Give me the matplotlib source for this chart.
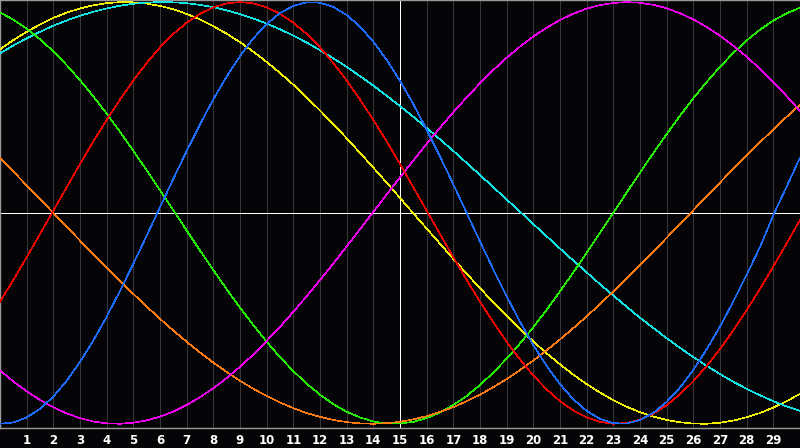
import matplotlib
matplotlib.use("Agg")
import matplotlib.pyplot as plt

# sample positions, half a grid step apart (0 .. 30)
xs = [i / 2 for i in range(61)]
tick_pos = list(range(1, 30))
tick_labels = [str(i) for i in tick_pos]

blue = [-1.000, -0.994, -0.970, -0.929, -0.871, -0.796, -0.707, -0.605, -0.492, -0.370,
        -0.241, -0.108, 0.027, 0.162, 0.294, 0.420, 0.539, 0.647, 0.744, 0.828,
        0.896, 0.948, 0.982, 0.999, 0.997, 0.977, 0.939, 0.884, 0.812, 0.726,
        0.627, 0.516, 0.395, 0.268, 0.135, 0.000, -0.135, -0.268, -0.395, -0.516,
        -0.627, -0.726, -0.812, -0.884, -0.939, -0.977, -0.997, -0.999, -0.982, -0.948,
        -0.896, -0.828, -0.744, -0.647, -0.539, -0.420, -0.294, -0.162, -0.010, 0.125,
        0.262]
red = [-0.421, -0.318, -0.210, -0.100, 0.011, 0.122, 0.232, 0.339, 0.441, 0.538,
       0.628, 0.711, 0.785, 0.849, 0.902, 0.945, 0.975, 0.994, 1.000, 0.994,
       0.975, 0.945, 0.902, 0.849, 0.785, 0.711, 0.628, 0.538, 0.441, 0.339,
       0.232, 0.122, 0.011, -0.100, -0.210, -0.318, -0.421, -0.519, -0.611, -0.695,
       -0.771, -0.837, -0.893, -0.937, -0.970, -0.991, -1.000, -0.996, -0.980, -0.952,
       -0.912, -0.860, -0.798, -0.726, -0.646, -0.557, -0.461, -0.360, -0.254, -0.144,
       -0.033]
yellow = [0.776, 0.820, 0.859, 0.894, 0.925, 0.950, 0.970, 0.985, 0.995, 1.000,
          0.999, 0.993, 0.982, 0.966, 0.944, 0.918, 0.886, 0.850, 0.810, 0.765,
          0.716, 0.664, 0.608, 0.548, 0.486, 0.421, 0.354, 0.285, 0.215, 0.144,
          0.071, -0.002, -0.074, -0.146, -0.218, -0.288, -0.357, -0.424, -0.489, -0.551,
          -0.610, -0.666, -0.718, -0.767, -0.812, -0.852, -0.888, -0.919, -0.945, -0.966,
          -0.982, -0.993, -0.999, -1.000, -0.995, -0.985, -0.969, -0.949, -0.923, -0.893,
          -0.858]
cyan = [0.757, 0.794, 0.828, 0.859, 0.888, 0.913, 0.935, 0.954, 0.970, 0.983,
        0.992, 0.998, 1.000, 0.999, 0.995, 0.987, 0.976, 0.961, 0.943, 0.922,
        0.898, 0.871, 0.841, 0.808, 0.772, 0.733, 0.693, 0.649, 0.604, 0.556,
        0.507, 0.456, 0.403, 0.349, 0.294, 0.237, 0.180, 0.122, 0.064, 0.006,
        -0.053, -0.111, -0.169, -0.226, -0.282, -0.338, -0.392, -0.445, -0.497, -0.546,
        -0.594, -0.640, -0.684, -0.725, -0.764, -0.801, -0.834, -0.865, -0.893, -0.918,
        -0.939]
green = [0.951, 0.917, 0.874, 0.824, 0.766, 0.701, 0.630, 0.553, 0.471, 0.385,
         0.295, 0.202, 0.108, 0.012, -0.083, -0.178, -0.271, -0.362, -0.449, -0.532,
         -0.611, -0.684, -0.750, -0.810, -0.862, -0.907, -0.943, -0.970, -0.989, -0.999,
         -0.999, -0.991, -0.973, -0.946, -0.911, -0.868, -0.816, -0.757, -0.691, -0.619,
         -0.542, -0.459, -0.372, -0.282, -0.189, -0.094, 0.001, 0.097, 0.191, 0.284,
         0.374, 0.461, 0.544, 0.621, 0.693, 0.759, 0.818, 0.869, 0.912, 0.947,
         0.973]
orange = [0.260, 0.196, 0.131, 0.066, 0.000, -0.066, -0.131, -0.196, -0.260, -0.323,
          -0.384, -0.444, -0.502, -0.558, -0.611, -0.662, -0.710, -0.754, -0.796, -0.834,
          -0.868, -0.899, -0.926, -0.949, -0.967, -0.982, -0.992, -0.998, -1.000, -0.997,
          -0.991, -0.979, -0.964, -0.944, -0.921, -0.893, -0.862, -0.826, -0.788, -0.745,
          -0.700, -0.651, -0.600, -0.546, -0.491, -0.432, -0.372, -0.310, -0.247, -0.183,
          -0.118, -0.053, 0.013, 0.079, 0.144, 0.209, 0.273, 0.335, 0.396, 0.456,
          0.513]
magenta = [-0.747, -0.799, -0.846, -0.887, -0.922, -0.951, -0.973, -0.989, -0.998, -1.000,
           -0.995, -0.984, -0.966, -0.942, -0.911, -0.874, -0.832, -0.783, -0.730, -0.671,
           -0.607, -0.540, -0.469, -0.395, -0.318, -0.240, -0.159, -0.077, 0.005, 0.087,
           0.169, 0.249, 0.328, 0.404, 0.478, 0.548, 0.615, 0.678, 0.736, 0.789,
           0.837, 0.879, 0.915, 0.945, 0.969, 0.986, 0.996, 1.000, 0.997, 0.987,
           0.971, 0.947, 0.918, 0.882, 0.841, 0.793, 0.741, 0.683, 0.621, 0.554,
           0.484]

series = [
    (yellow, "#f0f000"),
    (cyan, "#10e4e4"),
    (green, "#22f000"),
    (orange, "#ff7a10"),
    (magenta, "#f000f0"),
    (red, "#f00000"),
    (blue, "#1e6cff"),
]

bg = "#050508"
fig = plt.figure(figsize=(8, 4.48), dpi=100, facecolor=bg)
ax = fig.add_axes([0, 20 / 448, 1, 428 / 448])
ax.set_facecolor(bg)

ax.set_xlim(0, 30)
ax.set_ylim(-1.02, 1.01)

for i in tick_pos:
    ax.axvline(i, color="#38383b", lw=0.5, antialiased=False, zorder=1)
ax.axhline(0, color="white", lw=0.5, antialiased=False, zorder=2)
ax.axvline(15, color="white", lw=0.5, antialiased=False, zorder=2)

for vals, col in series:
    ax.plot(xs, vals, color=col, lw=0.45, antialiased=False, zorder=3)

ax.set_xticks(tick_pos)
ax.set_xticklabels(tick_labels, color="white", fontsize=8.5, fontweight="bold")
ax.tick_params(axis="x", length=0, pad=4)
ax.set_yticks([])

for side in ["top", "left", "bottom"]:
    ax.spines[side].set_color("#9a9a9a")
    ax.spines[side].set_linewidth(1.0)
ax.spines["right"].set_visible(False)

fig.savefig("out.png", dpi=100, facecolor=bg)
